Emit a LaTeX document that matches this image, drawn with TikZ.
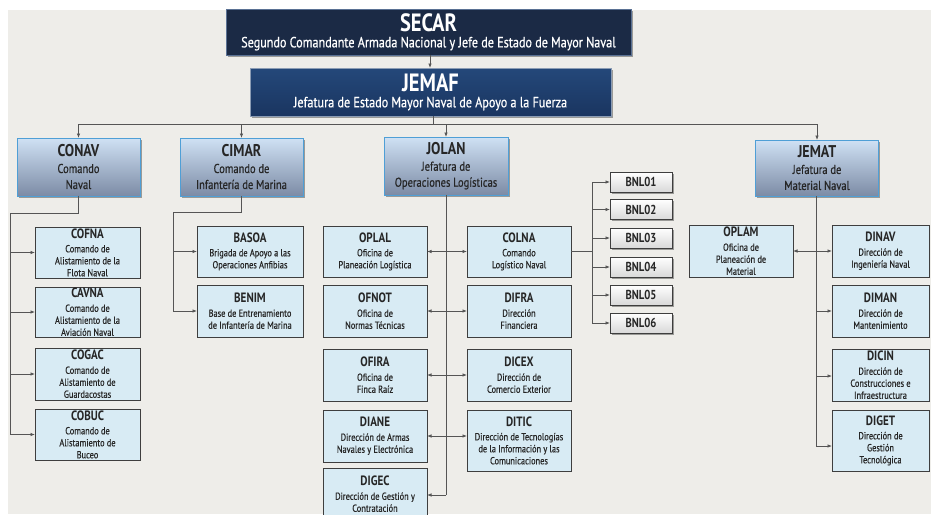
\documentclass[tikz,border=0pt]{standalone}
\usepackage{fontspec}
\setmainfont{PT Sans}[FakeStretch=0.82,UprightFeatures={FakeBold=0.6}]
\usetikzlibrary{arrows.meta,shadows}
\definecolor{bg}{HTML}{EEEDE9}
\definecolor{secarfill}{HTML}{1B2A45}
\definecolor{secarline}{HTML}{5A7194}
\definecolor{jemaftop}{HTML}{24487A}
\definecolor{jemafbot}{HTML}{1A3560}
\definecolor{maintop}{HTML}{CFE1F4}
\definecolor{mainbot}{HTML}{7C8BA5}
\definecolor{mainline}{HTML}{4F9FD6}
\definecolor{subfill}{HTML}{D8EBF4}
\definecolor{subline}{HTML}{3E3E3E}
\definecolor{subtext}{HTML}{262626}
\definecolor{conncol}{HTML}{555555}
\begin{document}
\begin{tikzpicture}[x=1pt,y=-1pt,
  shad/.style={drop shadow={shadow xshift=1.5pt,shadow yshift=-1.5pt,opacity=0.35,fill=black}},
  topbox/.style={shad,draw=secarline,line width=0.8pt,text=white,inner sep=0pt,outer sep=0pt,align=center,font=\fontsize{14.8}{16}\selectfont},
  mainbox/.style={shad,draw=mainline,line width=1pt,top color=maintop,bottom color=mainbot,text=black!85,inner sep=0pt,outer sep=0pt,align=center,font=\fontsize{12.8}{16}\selectfont,minimum width=123pt,minimum height=58pt},
  subbox/.style={draw=subline,line width=0.9pt,fill=subfill,text=subtext,inner sep=0pt,outer sep=0pt,align=center,font=\fontsize{10.2}{12}\selectfont,minimum height=51pt},
  bnlbox/.style={shad,draw=subline,line width=0.9pt,top color=white,bottom color=black!15,text=subtext,inner sep=0pt,outer sep=0pt,font=\fontsize{13}{13}\selectfont\bfseries,minimum width=62pt,minimum height=20pt},
  conn/.style={draw=conncol,line width=0.7pt},
  arr/.style={conn,-{Latex[length=4.5pt,width=3.5pt]}},
  darr/.style={conn,{Latex[length=4.5pt,width=3.5pt]}-{Latex[length=4.5pt,width=3.5pt]}}
]
\newcommand\bigttl[1]{{\fontsize{25}{25}\selectfont\bfseries #1}}
\newcommand\mttl[1]{{\fontsize{17}{17}\selectfont\bfseries #1}}
\newcommand\sttl[1]{{\fontsize{13.5}{13.5}\selectfont\bfseries #1}}
\useasboundingbox (0,0) rectangle (931,514);
\fill[white] (0,0) rectangle (931,514);
\fill[bg] (8,10) rectangle (931,514);

% top level
\node[topbox,fill=secarfill,minimum width=405pt,minimum height=46pt] (SECAR) at (428.5,32)
  {\bigttl{SECAR}\\ Segundo Comandante Armada Nacional y Jefe de Estado de Mayor Naval};
\node[topbox,top color=jemaftop,bottom color=jemafbot,draw=secarline!70!white,minimum width=361pt,minimum height=48pt] (JEMAF) at (430.5,92)
  {\bigttl{JEMAF}\\ Jefatura de Estado Mayor Naval de Apoyo a la Fuerza};

% main level
\node[mainbox] (CONAV) at (78.5,167) {\mttl{CONAV}\\ Comando\\ Naval};
\node[mainbox] (CIMAR) at (241.5,167) {\mttl{CIMAR}\\ Comando de\\ Infantería de Marina};
\node[mainbox,minimum width=124pt] (JOLAN) at (446,166) {\mttl{JOLAN}\\ Jefatura de\\ Operaciones Logísticas};
\node[mainbox,minimum height=56pt] (JEMAT) at (817,168) {\mttl{JEMAT}\\ Jefatura de\\ Material Naval};

% CONAV children
\node[subbox,minimum width=105pt] (COFNA) at (87.5,252.5) {\sttl{COFNA}\\[2pt] Comando de\\ Alistamiento de la\\ Flota Naval};
\node[subbox,minimum width=105pt,minimum height=50pt] (CAVNA) at (87.5,312) {\sttl{CAVNA}\\[2pt] Comando de\\ Alistamiento de la\\ Aviación Naval};
\node[subbox,minimum width=105pt,minimum height=52pt] (COGAC) at (87.5,374) {\sttl{COGAC}\\[2pt] Comando de\\ Alistamiento de\\ Guardacostas};
\node[subbox,minimum width=105pt] (COBUC) at (87.5,434.5) {\sttl{COBUC}\\[2pt] Comando de\\ Alistamiento de\\ Buceo};

% CIMAR children
\node[subbox,minimum width=106pt] (BASOA) at (250,251.5) {\sttl{BASOA}\\[2pt] Brigada de Apoyo a las\\ Operaciones Anfibias};
\node[subbox,minimum width=106pt,minimum height=52pt] (BENIM) at (250,311) {\sttl{BENIM}\\[2pt] Base de Entrenamiento\\ de Infantería de Marina};

% JOLAN children
\node[subbox,minimum width=104pt] (OPLAL) at (375,251.5) {\sttl{OPLAL}\\[2pt] Oficina de\\ Planeación Logística};
\node[subbox,minimum width=104pt,minimum height=52pt] (OFNOT) at (375,311) {\sttl{OFNOT}\\[2pt] Oficina de\\ Normas Técnicas};
\node[subbox,minimum width=104pt,minimum height=52pt] (OFIRA) at (375,375) {\sttl{OFIRA}\\[2pt] Oficina de\\ Finca Raíz};
\node[subbox,minimum width=104pt,minimum height=52pt] (DIANE) at (375,436) {\sttl{DIANE}\\[2pt] Dirección de Armas\\ Navales y Electrónica};
\node[subbox,minimum width=104pt,minimum height=52pt] (DIGEC) at (375,494) {\sttl{DIGEC}\\[2pt] Dirección de Gestión y\\ Contratación};
\node[subbox,minimum width=104pt] (COLNA) at (519,251.5) {\sttl{COLNA}\\[2pt] Comando\\ Logístico Naval};
\node[subbox,minimum width=104pt,minimum height=52pt] (DIFRA) at (519,311) {\sttl{DIFRA}\\[2pt] Dirección\\ Financiera};
\node[subbox,minimum width=104pt,minimum height=52pt] (DICEX) at (519,375) {\sttl{DICEX}\\[2pt] Dirección de\\ Comercio Exterior};
\node[subbox,minimum width=104pt,minimum height=61pt] (DITIC) at (519,440.5) {\sttl{DITIC}\\[2pt] Dirección de Tecnologías\\ de la Información y las\\ Comunicaciones};

% BNL
\node[bnlbox] (BNL01) at (641,182) {BNL01};
\node[bnlbox] (BNL02) at (641,209.5) {BNL02};
\node[bnlbox] (BNL03) at (641,238) {BNL03};
\node[bnlbox] (BNL04) at (641,267) {BNL04};
\node[bnlbox] (BNL05) at (641,295) {BNL05};
\node[bnlbox] (BNL06) at (641,323) {BNL06};

% JEMAT children
\node[subbox,minimum width=104pt,minimum height=52pt] (OPLAM) at (741,251) {\sttl{OPLAM}\\[2pt] Oficina de\\ Planeación de\\ Material};
\node[subbox,minimum width=97pt,minimum height=52pt] (DINAV) at (880.5,251) {\sttl{DINAV}\\[2pt] Dirección de\\ Ingeniería Naval};
\node[subbox,minimum width=97pt,minimum height=52pt] (DIMAN) at (880.5,311) {\sttl{DIMAN}\\[2pt] Dirección de\\ Mantenimiento};
\node[subbox,minimum width=97pt,minimum height=52pt] (DICIN) at (880.5,375) {\sttl{DICIN}\\[2pt] Dirección de\\ Construcciones e\\ Infraestructura};
\node[subbox,minimum width=97pt,minimum height=61pt] (DIGET) at (880.5,440.5) {\sttl{DIGET}\\[2pt] Dirección de\\ Gestión\\ Tecnológica};

% connectors top
\draw[arr] (SECAR.south -| 430,0) -- (JEMAF.north -| 430,0);
\coordinate (bus) at (0,124);
\draw[conn] (JEMAF.south -| 433,0) -- (433,124);
\draw[conn] (CONAV.north |- bus) -- (JEMAT.north |- bus);
\draw[arr] (CONAV.north |- bus) -- (CONAV.north);
\draw[arr] (CIMAR.north |- bus) -- (CIMAR.north);
\draw[arr] (JOLAN.north |- bus) -- (JOLAN.north);
\draw[arr] (JEMAT.north |- bus) -- (JEMAT.north);

% CONAV tree
\coordinate (ca) at (10,213);
\draw[conn] (CONAV.south) |- (ca) -- (10,434.5);
\foreach \n in {COFNA,CAVNA,COGAC,COBUC} \draw[arr] (ca |- \n.west) -- (\n.west);

% CIMAR tree
\coordinate (cb) at (173,212);
\draw[conn] (CIMAR.south) |- (cb) -- (173,311);
\foreach \n in {BASOA,BENIM} \draw[arr] (cb |- \n.west) -- (\n.west);

% JOLAN tree
\coordinate (jb) at (446,495);
\draw[conn] (JOLAN.south) -- (jb);
\draw[darr] (OPLAL.east) -- (COLNA.west);
\draw[darr] (OFNOT.east) -- (DIFRA.west);
\draw[darr] (OFIRA.east) -- (DICEX.west);
\draw[darr] (DIANE.east) -- (DITIC.west |- DIANE.east);
\draw[arr] (jb) -- (DIGEC.east |- jb);

% BNL tree
\coordinate (bn) at (592,251.5);
\draw[conn] (COLNA.east) -- (bn);
\draw[conn] (bn |- BNL01.west) -- (bn |- BNL06.west);
\foreach \n in {BNL01,BNL02,BNL03,BNL04,BNL05,BNL06} \draw[arr] (bn |- \n.west) -- (\n.west);

% JEMAT tree
\coordinate (jt) at (816,446);
\draw[conn] (JEMAT.south -| jt) -- (jt);
\draw[darr] (OPLAM.east) -- (DINAV.west);
\draw[arr] (jt |- DIMAN.west) -- (DIMAN.west);
\draw[arr] (816,376) -- (DICIN.west |- 0,376);
\draw[arr] (jt) -- (DIGET.west |- jt);
\end{tikzpicture}
\end{document}
